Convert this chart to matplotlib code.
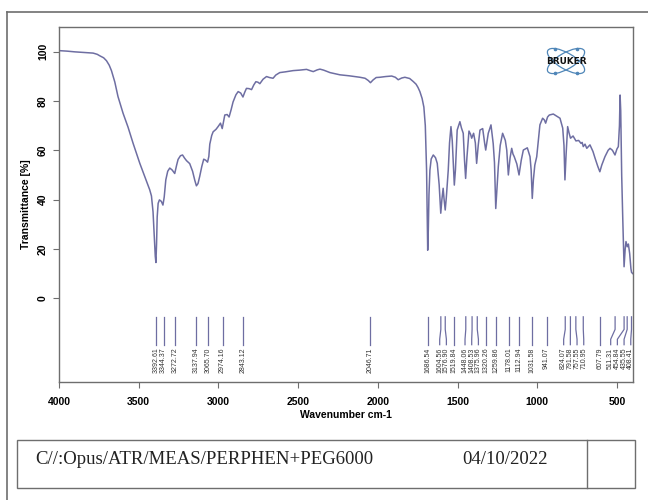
import matplotlib
matplotlib.use("Agg")
import matplotlib.pyplot as plt
from matplotlib.patches import Ellipse, Rectangle
from matplotlib.lines import Line2D

# spectrum (wavenumber cm-1, transmittance %)
wavenumber = [
    4000, 3950, 3900, 3850, 3800, 3786, 3760, 3744, 3720, 3702, 3685, 3671,
    3650, 3630, 3598, 3567, 3535, 3493, 3462, 3431, 3420, 3410, 3402, 3396,
    3392, 3388, 3384, 3378, 3370, 3358, 3348, 3340, 3330, 3318, 3305, 3290,
    3274, 3262, 3253, 3238, 3225, 3212, 3200, 3180, 3162, 3148, 3138, 3128,
    3117, 3104, 3092, 3080, 3068, 3060, 3054, 3042, 3033, 3015, 3002, 2987,
    2976, 2968, 2960, 2945, 2933, 2920, 2908, 2890, 2876, 2860, 2846, 2835,
    2824, 2808, 2792, 2778, 2765, 2752, 2740, 2720, 2698, 2680, 2657, 2640,
    2615, 2580, 2531, 2490, 2447, 2425, 2405, 2380, 2363, 2340, 2300, 2238,
    2180, 2112, 2080, 2060, 2046, 2030, 2010, 1987, 1950, 1913, 1890, 1872,
    1850, 1830, 1800, 1778, 1760, 1748, 1736, 1722, 1711, 1702, 1694, 1690,
    1687, 1683, 1679, 1673, 1665, 1652, 1638, 1627, 1615, 1610, 1605, 1598,
    1590, 1584, 1577, 1570, 1558, 1550, 1541, 1533, 1526, 1520, 1513, 1502,
    1485, 1475, 1464, 1456, 1449, 1441, 1428, 1418, 1411, 1399, 1388, 1380,
    1370, 1359, 1342, 1330, 1323, 1315, 1307, 1290, 1276, 1268, 1260, 1252,
    1244, 1232, 1217, 1200, 1191, 1181, 1170, 1160, 1152, 1144, 1128, 1114,
    1100, 1087, 1062, 1045, 1038, 1031, 1024, 1015, 1003, 983, 966, 955,
    947, 935, 924, 899, 857, 840, 832, 826, 819, 809, 800, 791, 775, 757,
    740, 725, 718, 711, 700, 689, 669, 650, 637, 620, 607, 595, 575, 555,
    543, 528, 512, 500, 491, 484, 480, 476, 470, 463, 455, 448, 443, 435,
    428, 420, 412, 408, 400,
]
transmittance = [
    100.4, 100.2, 99.9, 99.7, 99.5, 99.4, 98.9, 98.3, 97.5, 96.3, 94.5, 92.3,
    87.7, 81.8, 75.0, 69.4, 62.8, 54.7, 49.3, 44.0, 41.5, 35.0, 25.0, 17.0,
    14.5, 22.0, 33.0, 38.5, 39.9, 39.3, 37.8, 41.0, 48.0, 51.5, 52.8, 52.0,
    50.6, 54.0, 56.3, 57.8, 58.1, 56.8, 55.8, 54.6, 51.5, 47.8, 45.6, 46.5,
    49.5, 53.5, 56.4, 56.0, 55.2, 57.5, 62.5, 66.0, 67.5, 68.5, 69.6, 71.0,
    68.8, 71.5, 74.3, 74.5, 73.5, 76.5, 79.6, 82.5, 83.8, 83.2, 81.6, 83.5,
    85.1, 85.0, 84.6, 86.5, 87.8, 87.6, 87.0, 88.8, 89.9, 89.5, 89.2, 90.5,
    91.5, 91.8, 92.3, 92.5, 92.8, 92.3, 91.9, 92.6, 92.9, 92.5, 91.5, 90.6,
    90.2, 89.6, 89.2, 88.3, 87.4, 88.5, 89.5, 89.6, 89.9, 90.1, 89.6, 88.6,
    89.3, 89.6, 89.1, 87.9, 86.8, 85.5, 83.8, 81.0, 77.5, 70.0, 52.0, 35.0,
    19.5, 28.0, 42.0, 52.0, 56.5, 58.1, 57.0, 54.7, 46.0, 40.0, 34.5, 40.0,
    44.6, 40.0, 35.8, 41.0, 52.0, 63.0, 69.6, 64.0, 54.0, 45.9, 52.0, 68.2,
    71.6, 69.0, 66.9, 56.0, 48.6, 57.0, 67.8, 66.5, 64.9, 66.9, 63.0, 54.7,
    62.0, 68.2, 68.8, 63.0, 60.1, 63.5, 66.9, 70.3, 62.7, 55.0, 36.4, 45.0,
    53.4, 62.0, 66.9, 64.0, 60.1, 50.0, 57.0, 60.8, 58.5, 57.4, 54.5, 50.0,
    56.0, 60.1, 61.0, 57.4, 52.0, 40.5, 48.0, 54.0, 57.4, 70.3, 73.0, 72.3,
    71.0, 73.5, 74.3, 74.7, 73.0, 69.0, 62.0, 48.0, 58.0, 69.6, 67.0, 64.9,
    65.8, 63.8, 64.0, 62.8, 63.2, 61.5, 62.5, 60.8, 62.2, 59.5, 56.8, 53.5,
    51.3, 54.0, 57.4, 60.0, 60.8, 60.0, 58.1, 60.5, 61.5, 70.0, 82.4, 76.0,
    50.0, 31.7, 12.8, 20.0, 23.0, 20.9, 22.0, 18.2, 12.0, 10.5, 10.0,
]

peaks = [
    3392.61, 3344.37, 3272.72, 3137.94, 3065.70, 2974.16, 2843.12, 2046.71,
    1686.54, 1604.56, 1576.90, 1519.84, 1448.06, 1408.53, 1375.96, 1320.26,
    1259.86, 1178.01, 1112.94, 1031.58, 941.07, 824.07, 791.58, 757.55,
    710.95, 607.79, 511.31, 454.84, 435.55, 408.41,
]

x_ticks = [4000, 3500, 3000, 2500, 2000, 1500, 1000, 500]
y_ticks = [0, 20, 40, 60, 80, 100]
file_name = "C//:Opus/ATR/MEAS/PERPHEN+PEG6000"
date_text = "04/10/2022"

W, H = 648, 500
line_col = "#6e6ea2"
frame_col = "#6e6e6e"
plt.rcParams['font.family'] = ['Liberation Sans', 'DejaVu Sans']


def fx(px):
    return px / W


def fy(py):
    return 1 - py / H


fig = plt.figure(figsize=(W / 100, H / 100), dpi=100)
ax = fig.add_axes([fx(59), fy(381.7), fx(633 - 59), (381.7 - 26.7) / H])

ax.plot(wavenumber, transmittance, color=line_col, lw=1.1)
ax.set_xlim(4000, 399)
ax.set_ylim(-33.8, 110.1)

# peak markers: labels pushed apart so they don't collide
gap = 42.0
right_end = 413.0
pos = list(peaks)
for _ in range(300):
    for i in range(len(pos) - 1):
        if pos[i] - pos[i + 1] < gap:
            mid = (pos[i] + pos[i + 1]) / 2
            pos[i] = mid + gap / 2
            pos[i + 1] = mid - gap / 2
pos[-1] = max(pos[-1], right_end)
for i in range(len(pos) - 2, -1, -1):
    pos[i] = max(pos[i], pos[i + 1] + gap)

for pk, p in zip(peaks, pos):
    ax.plot([pk, pk, p, p], [-7.5, -12.6, -16.6, -18.8], color=line_col, lw=0.9)
    ax.text(p, -20.0, "%.2f" % pk, rotation=90, ha="center", va="top",
            fontsize=5.0, color="#333333")

ax.set_xticks(x_ticks)
ax.set_yticks(y_ticks)
ax.set_xticklabels([str(t) for t in x_ticks], fontweight="bold", fontsize=7.5)
ax.set_yticklabels([str(t) for t in y_ticks], fontweight="bold", fontsize=7.5,
                   rotation=90, va="center")
ax.tick_params(axis="x", direction="out", length=4, width=0.8, color=frame_col, pad=7)
ax.tick_params(axis="y", direction="out", length=4, width=0.8, color=frame_col, pad=4)
ax.set_xlabel("Wavenumber cm-1", fontweight="bold", fontsize=7.5, labelpad=2)
ax.set_ylabel("Transmittance [%]", fontweight="bold", fontsize=7.5, labelpad=5)
for s in ax.spines.values():
    s.set_color(frame_col)
    s.set_linewidth(1.0)

# outer frame (only top and left visible)
fig.add_artist(Line2D([fx(7), fx(7)], [fy(12), 0], color=frame_col, lw=1.2))
fig.add_artist(Line2D([fx(7), 1], [fy(12), fy(12)], color=frame_col, lw=1.2))

# footer box with file name and date
fig.add_artist(Rectangle((fx(17), fy(488)), fx(635 - 17), (488 - 440) / H,
                         fill=False, ec=frame_col, lw=1.0))
fig.add_artist(Line2D([fx(587), fx(587)], [fy(488), fy(440)], color=frame_col, lw=1.0))
fig.text(fx(35), fy(460), file_name, family="Liberation Serif", fontsize=13.5,
         va="center", ha="left", color="#222222")
fig.text(fx(505), fy(460), date_text, family="Liberation Serif", fontsize=13.5,
         va="center", ha="center", color="#222222")

# Bruker logo, drawn in a little pixel-scaled axes
lax = fig.add_axes([fx(536), fy(76), fx(60), 30 / H])
lax.set_xlim(-30, 30)
lax.set_ylim(-15, 15)
lax.axis("off")
for ang in (30, -30):
    lax.add_patch(Ellipse((0, 0), 42, 16, angle=ang, fill=False,
                          ec="#4f86b8", lw=0.9))
lax.plot([-11, 11, -11, 11], [12, 12, -12, -12], "o", ms=1.6, color="#4f86b8")
lax.text(0, 0, "BRUKER", ha="center", va="center", fontsize=6.4,
         family="DejaVu Sans", fontweight="bold", color="#111111")

fig.savefig("out.png", dpi=100)
